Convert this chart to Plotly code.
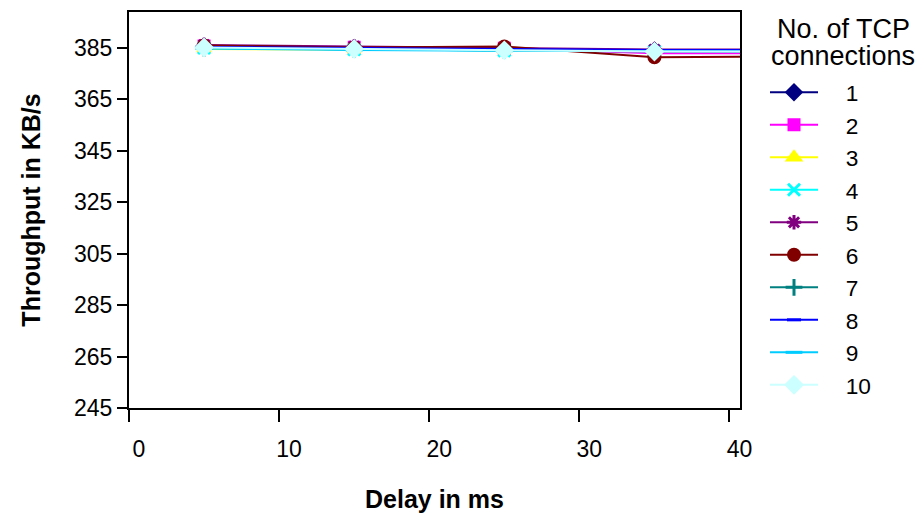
import plotly.graph_objects as go

delay_ms = [5, 15, 25, 35, 45]
connections = ["1", "2", "3", "4", "5", "6", "7", "8", "9", "10"]
throughput = {
    "1": [385.6, 385.0, 384.6, 384.0, 384.0],
    "2": [385.8, 385.3, 384.9, 383.0, 383.0],
    "3": [384.6, 384.4, 384.2, 383.8, 383.8],
    "4": [385.0, 384.4, 384.0, 383.8, 383.8],
    "5": [386.2, 385.6, 385.2, 384.4, 384.4],
    "6": [386.0, 385.2, 385.6, 381.4, 381.8],
    "7": [385.0, 384.5, 384.0, 383.6, 383.6],
    "8": [385.4, 385.0, 384.6, 384.2, 384.2],
    "9": [384.8, 384.2, 383.9, 383.7, 383.7],
    "10": [385.2, 384.6, 384.1, 383.6, 383.6],
}
colors = ["#000080", "#FF00FF", "#FFFF00", "#00FFFF", "#800080",
          "#800000", "#008080", "#0000FF", "#00CCFF", "#CCFFFF"]
symbols = ["diamond", "square", "triangle-up", "x-thin-open", "asterisk-open",
           "circle", "cross-thin-open", "line-ew-open", "line-ew-open", "diamond"]
sizes = [11, 10, 11, 12, 12, 11, 12, 10, 12, 12]
y_ticks = [245, 265, 285, 305, 325, 345, 365, 385]
x_ticks = [0, 10, 20, 30, 40]

FONT = "Liberation Sans, Arial, sans-serif"

fig = go.Figure()
for i, c in enumerate(connections):
    fig.add_trace(go.Scatter(
        x=delay_ms, y=throughput[c], name="\u2002\u2002" + c, mode="lines+markers",
        line=dict(color=colors[i], width=2),
        marker=dict(symbol=symbols[i], size=sizes[i], color=colors[i],
                    line=dict(color=colors[i], width=3)),
    ))

fig.update_layout(
    width=919, height=522,
    margin=dict(l=129, r=179, t=10, b=114),
    paper_bgcolor="white", plot_bgcolor="white",
    font=dict(family=FONT, color="black", size=22),
    showlegend=True,
    legend=dict(
        xref="container", yref="container", x=765 / 919, y=1 - 71 / 522,
        xanchor="left", yanchor="top", maxheight=480,
        font=dict(family=FONT, size=22.7, color="black"),
        bgcolor="rgba(0,0,0,0)", itemwidth=48, tracegroupgap=0,
    ),
    annotations=[
        dict(text="No. of TCP", xref="paper", yref="paper",
             x=(843 - 129) / 611, y=1 - (27 - 10) / 398, showarrow=False,
             xanchor="center", yanchor="middle",
             font=dict(family=FONT, size=27, color="black")),
        dict(text="connections", xref="paper", yref="paper",
             x=(843 - 129) / 611, y=1 - (54 - 10) / 398, showarrow=False,
             xanchor="center", yanchor="middle",
             font=dict(family=FONT, size=27, color="black")),
    ],
    xaxis=dict(
        range=[0, 40.7], tickvals=x_ticks, ticktext=[str(v) for v in x_ticks],
        ticks="outside", ticklen=12, tickwidth=1.5, tickcolor="black",
        showline=True, linecolor="black", linewidth=2, mirror=True,
        showgrid=False, zeroline=False, ticklabelshift=10, ticklabelstandoff=7,
        tickfont=dict(family=FONT, size=23),
        title=dict(text="<b>Delay in ms</b>", standoff=30,
                   font=dict(family=FONT, size=25)),
    ),
    yaxis=dict(
        range=[245, 399], tickvals=y_ticks, ticktext=[str(v) for v in y_ticks],
        ticks="outside", ticklen=10, tickwidth=1.5, tickcolor="black",
        showline=True, linecolor="black", linewidth=2, mirror=True,
        showgrid=False, zeroline=False,
        tickfont=dict(family=FONT, size=23),
        title=dict(text="<b>Throughput in KB/s</b>", standoff=26,
                   font=dict(family=FONT, size=25)),
    ),
)

fig.write_html("out.html")
